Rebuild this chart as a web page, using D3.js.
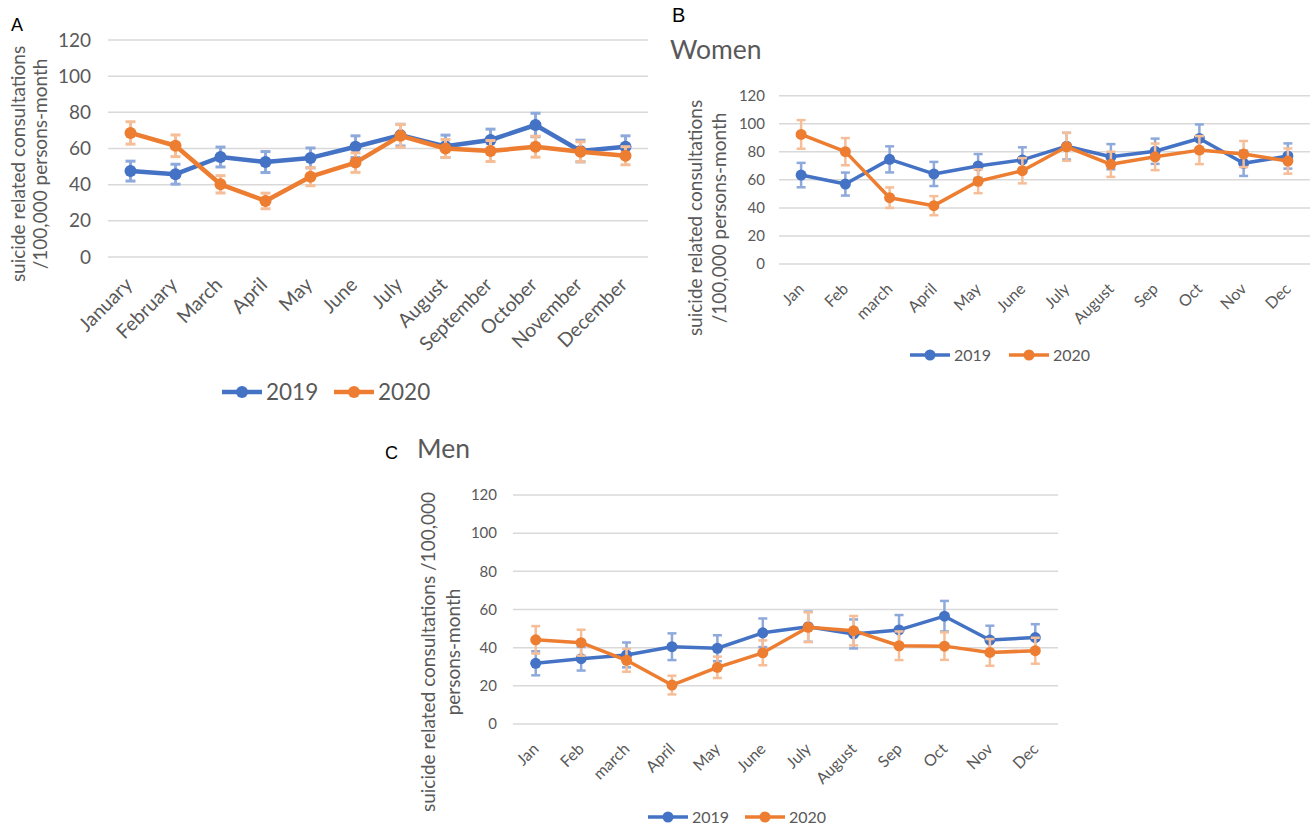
<!DOCTYPE html>
<html>
<head>
<meta charset="utf-8">
<script src="https://cdn.jsdelivr.net/npm/d3@7"></script>
<style>
  html, body { margin: 0; padding: 0; background: #fff; }
  svg { display: block; }
  text { font-family: Lato, "Open Sans", sans-serif; fill: #595959; }
  .panel-letter { font-family: "Liberation Sans", Arial, sans-serif; fill: #000; }
</style>
</head>
<body>
<svg id="chart" width="1314" height="829"></svg>
<script>
// Month labels
const monthsLong = ["January", "February", "March", "April", "May", "June", "July",
  "August", "September", "October", "November", "December"];
const monthsShort = ["Jan", "Feb", "march", "April", "May", "June", "July",
  "August", "Sep", "Oct", "Nov", "Dec"];
const yTicks = [0, 20, 40, 60, 80, 100, 120];
const seriesNames = ["2019", "2020"];

// Panel A: all patients
const all2019 = [47.5, 45.8, 55.3, 52.5, 54.8, 61.0, 67.4, 61.2, 64.7, 73.0, 58.6, 61.0];
const all2019Err = [5.5, 5.5, 5.5, 5.8, 5.5, 6.0, 6.0, 6.2, 6.0, 6.5, 6.0, 6.0];
const all2020 = [68.6, 61.5, 40.2, 31.0, 44.4, 52.2, 67.0, 60.0, 58.6, 61.0, 58.2, 56.0];
const all2020Err = [6.2, 6.0, 4.8, 4.3, 5.0, 5.4, 6.3, 5.0, 5.8, 5.8, 5.5, 5.0];

// Panel B: women
const women2019 = [63.4, 57.0, 74.6, 64.2, 69.9, 74.2, 84.0, 76.5, 80.4, 89.5, 71.8, 77.0];
const women2019Err = [8.7, 8.2, 9.3, 8.6, 8.5, 9.0, 9.5, 9.0, 9.0, 10.0, 9.0, 9.0];
const women2020 = [92.4, 80.1, 47.3, 41.6, 59.0, 66.5, 83.6, 71.1, 76.4, 81.2, 78.4, 73.4];
const women2020Err = [10.2, 9.7, 7.3, 6.8, 8.5, 9.0, 10.0, 9.0, 9.5, 10.0, 9.3, 9.0];

// Panel C: men
const men2019 = [31.8, 34.2, 36.2, 40.5, 39.7, 47.8, 51.0, 47.2, 49.3, 56.5, 44.0, 45.3];
const men2019Err = [6.3, 6.2, 6.5, 7.0, 6.8, 7.5, 7.9, 7.6, 7.8, 8.0, 7.5, 7.0];
const men2020 = [44.1, 42.6, 33.4, 20.4, 29.7, 37.3, 50.7, 48.9, 41.0, 40.8, 37.5, 38.4];
const men2020Err = [7.2, 6.8, 6.0, 4.9, 5.6, 6.5, 7.8, 7.7, 7.5, 7.2, 7.0, 6.8];

const lineColors = ["#4472C4", "#ED7D31"];
const errColors = ["#8EA9DB", "#F6BE98"];

const svg = d3.select("#chart");

function drawPanel(cfg) {
  const g = svg.append("g");
  const x = d3.scaleBand().domain(cfg.cats).range([cfg.x0, cfg.x1]);
  const y = d3.scaleLinear().domain([0, 120]).range([cfg.yBottom, cfg.yTop]);
  const cx = c => x(c) + x.bandwidth() / 2;

  // gridlines
  g.append("g").selectAll("line").data(yTicks).join("line")
    .attr("x1", cfg.x0).attr("x2", cfg.x1)
    .attr("y1", d => y(d)).attr("y2", d => y(d))
    .attr("stroke", "#d9d9d9").attr("stroke-width", 1.5);

  // y axis labels
  const yAxis = d3.axisLeft(y).tickValues(yTicks).tickSize(0).tickPadding(cfg.yPad);
  const ya = g.append("g").attr("transform", `translate(${cfg.x0},0)`).call(yAxis);
  ya.select(".domain").remove();
  ya.selectAll("text").style("font-size", cfg.tickFont + "px").attr("fill", "#595959")
    .style("font-family", "Lato, sans-serif");

  // x axis labels (rotated)
  const xa = g.append("g").attr("transform", `translate(0,${cfg.yBottom})`);
  xa.selectAll("text").data(cfg.cats).join("text")
    .attr("text-anchor", "end")
    .attr("transform", d => `translate(${cx(d) + cfg.xLabDx},${cfg.xLabDy}) rotate(-45)`)
    .style("font-size", cfg.xFont + "px")
    .text(d => d);

  // y axis title
  const tt = g.append("text")
    .attr("transform", `translate(${cfg.titleX},${cfg.titleY}) rotate(-90)`)
    .attr("text-anchor", "middle")
    .style("font-size", cfg.titleFont + "px");
  cfg.titleLines.forEach((t, i) => {
    tt.append("tspan").attr("x", 0).attr("dy", i === 0 ? 0 : cfg.titleLH).text(t);
  });

  // series
  cfg.series.forEach((s, si) => {
    const pts = cfg.cats.map((c, i) => ({ c, v: s.values[i], e: s.err[i] }));
    const eb = g.append("g").attr("stroke", errColors[si]).attr("stroke-width", cfg.errW);
    eb.selectAll("line.v").data(pts).join("line").attr("class", "v")
      .attr("x1", d => cx(d.c)).attr("x2", d => cx(d.c))
      .attr("y1", d => y(d.v - d.e)).attr("y2", d => y(d.v + d.e));
    eb.selectAll("line.t").data(pts).join("line").attr("class", "t")
      .attr("x1", d => cx(d.c) - cfg.cap).attr("x2", d => cx(d.c) + cfg.cap)
      .attr("y1", d => y(d.v + d.e)).attr("y2", d => y(d.v + d.e));
    eb.selectAll("line.b").data(pts).join("line").attr("class", "b")
      .attr("x1", d => cx(d.c) - cfg.cap).attr("x2", d => cx(d.c) + cfg.cap)
      .attr("y1", d => y(d.v - d.e)).attr("y2", d => y(d.v - d.e));

    const line = d3.line().x(d => cx(d.c)).y(d => y(d.v));
    g.append("path").datum(pts).attr("d", line)
      .attr("fill", "none").attr("stroke", lineColors[si])
      .attr("stroke-width", cfg.lineW).attr("stroke-linejoin", "round");
    g.append("g").selectAll("circle").data(pts).join("circle")
      .attr("cx", d => cx(d.c)).attr("cy", d => y(d.v)).attr("r", cfg.r)
      .attr("fill", lineColors[si]);
  });

  // legend
  const lg = g.append("g");
  seriesNames.forEach((name, i) => {
    const lx = cfg.legendX[i];
    lg.append("line").attr("x1", lx).attr("x2", lx + cfg.legendLen)
      .attr("y1", cfg.legendY).attr("y2", cfg.legendY)
      .attr("stroke", lineColors[i]).attr("stroke-width", cfg.lineW);
    lg.append("circle").attr("cx", lx + cfg.legendLen / 2).attr("cy", cfg.legendY)
      .attr("r", cfg.r).attr("fill", lineColors[i]);
    lg.append("text").attr("x", lx + cfg.legendLen + 4).attr("y", cfg.legendY)
      .attr("dy", "0.36em").style("font-size", cfg.legendFont + "px").text(name);
  });

  // panel letter and heading
  g.append("text").attr("class", "panel-letter")
    .attr("x", cfg.letterX).attr("y", cfg.letterY)
    .style("font-size", cfg.letterFont + "px").text(cfg.letter);
  if (cfg.heading) {
    g.append("text").attr("x", cfg.headingX).attr("y", cfg.headingY)
      .style("font-size", cfg.headingFont + "px").text(cfg.heading);
  }
}

drawPanel({
  cats: monthsLong, x0: 108, x1: 648, yBottom: 257, yTop: 40,
  yPad: 17, tickFont: 19, xFont: 19.5, xLabDx: 3, xLabDy: 29,
  titleX: 25, titleY: 164, titleFont: 19, titleLH: 21.5,
  titleLines: ["suicide related consultations", "/100,000 persons-month"],
  series: [{ values: all2019, err: all2019Err }, { values: all2020, err: all2020Err }],
  lineW: 4.5, r: 6, errW: 3, cap: 5,
  legendX: [222, 334], legendY: 392, legendLen: 40, legendFont: 22.5,
  letter: "A", letterX: 11, letterY: 30.5, letterFont: 18
});

drawPanel({
  cats: monthsShort, x0: 779, x1: 1310, yBottom: 264, yTop: 95.7,
  yPad: 14, tickFont: 15, xFont: 16, xLabDx: 4, xLabDy: 26,
  titleX: 702, titleY: 218, titleFont: 19, titleLH: 24,
  titleLines: ["suicide related consultations", "/100,000 persons-month"],
  series: [{ values: women2019, err: women2019Err }, { values: women2020, err: women2020Err }],
  lineW: 3.5, r: 5.5, errW: 2.5, cap: 4.5,
  legendX: [910, 1009], legendY: 355, legendLen: 40, legendFont: 16,
  letter: "B", letterX: 672, letterY: 21.5, letterFont: 20,
  heading: "Women", headingX: 670, headingY: 59, headingFont: 26.5
});

drawPanel({
  cats: monthsShort, x0: 513, x1: 1058, yBottom: 724, yTop: 495,
  yPad: 16, tickFont: 15, xFont: 16, xLabDx: 4, xLabDy: 26,
  titleX: 435, titleY: 652, titleFont: 19, titleLH: 25,
  titleLines: ["suicide related consultations /100,000", "persons-month"],
  series: [{ values: men2019, err: men2019Err }, { values: men2020, err: men2020Err }],
  lineW: 3.5, r: 5.5, errW: 2.5, cap: 4.5,
  legendX: [648, 745], legendY: 817, legendLen: 40, legendFont: 16,
  letter: "C", letterX: 385, letterY: 459, letterFont: 18,
  heading: "Men", headingX: 417, headingY: 458, headingFont: 26.5
});
</script>
</body>
</html>
